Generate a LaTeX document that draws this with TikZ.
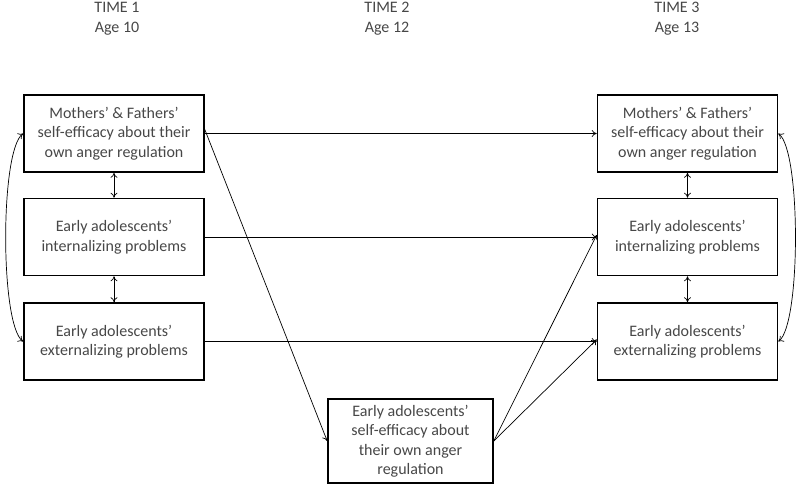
\documentclass[tikz,border=0pt]{standalone}
\usepackage{fontspec}
\setmainfont{Carlito}
\usetikzlibrary{arrows.meta}
\definecolor{txt}{HTML}{474747}
\begin{document}
\begin{tikzpicture}[x=1pt,y=-1pt,
  box/.style={draw=black,line width=1.6pt,minimum width=180pt,minimum height=77pt,align=center,text=txt,font=\fontsize{16}{19.5}\selectfont,inner sep=2pt},
  title/.style={align=center,text=txt,font=\fontsize{16}{19.5}\selectfont},
  conn/.style={line width=0.7pt,-{To[length=5pt,width=7pt]}},
  dconn/.style={line width=0.7pt,{To[length=5pt,width=7pt]}-{To[length=5pt,width=7pt]}}]
\useasboundingbox (0,0) rectangle (800,485);
\node[title] (t1) at (117,18.5) {TIME 1\\Age 10};
\node[title] (t2) at (387,18.5) {TIME 2\\Age 12};
\node[title] (t3) at (677,18.5) {TIME 3\\Age 13};
\node[box] (a1) at (114,133.5) {Mothers’ \& Fathers’\\self-efficacy about their\\own anger regulation};
\node[box] (b1) at (114,237) {Early adolescents’\\internalizing problems};
\node[box] (c1) at (114,341.5) {Early adolescents’\\externalizing problems};
\node[box] (a3) at (687.5,133.5) {Mothers’ \& Fathers’\\self-efficacy about their\\own anger regulation};
\node[box] (b3) at (687.5,237) {Early adolescents’\\internalizing problems};
\node[box] (c3) at (687.5,341.5) {Early adolescents’\\externalizing problems};
\node[box,minimum width=165pt,minimum height=84pt] (m2) at (410.5,441) {Early adolescents’\\self-efficacy about\\their own anger\\regulation};
\draw[conn] (a1.east) -- (a3.west);
\draw[conn] (b1.east) -- (b3.west);
\draw[conn] (c1.east) -- (c3.west);
\draw[conn] ([yshift=4pt]a1.east) -- (m2.west);
\draw[conn] (m2.east) -- ([yshift=2pt]b3.west);
\draw[conn] (m2.east) -- ([yshift=2pt]c3.west);
\draw[dconn] (a1.south) -- (b1.north);
\draw[dconn] (b1.south) -- (c1.north);
\draw[dconn] (a3.south) -- (b3.north);
\draw[dconn] (b3.south) -- (c3.north);
\draw[dconn] (a1.west) .. controls (0,150) and (0,325) .. (c1.west);
\draw[dconn] (a3.east) .. controls (801,150) and (801,325) .. (c3.east);
\end{tikzpicture}
\end{document}
